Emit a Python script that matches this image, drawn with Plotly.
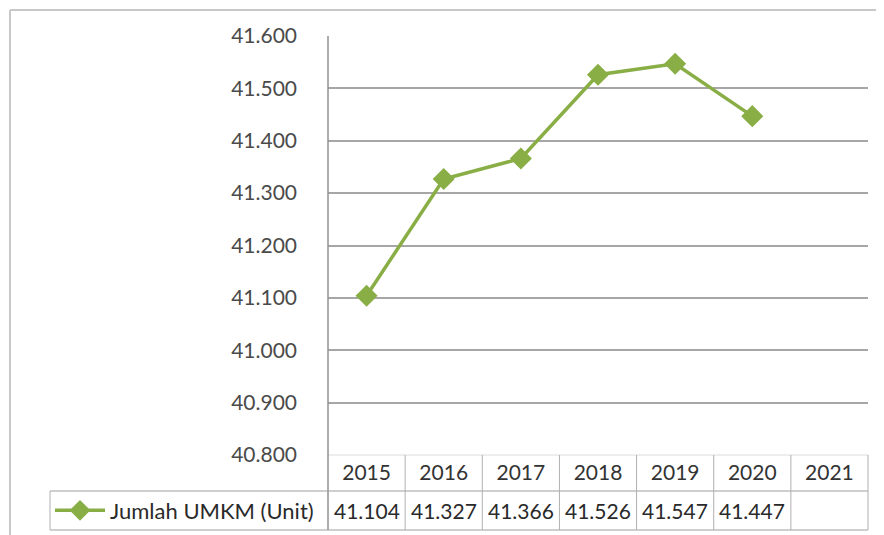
import plotly.graph_objects as go

W, H = 884, 535

years = ["2015", "2016", "2017", "2018", "2019", "2020", "2021"]
umkm = [41.104, 41.327, 41.366, 41.526, 41.547, 41.447, None]
series_name = "Jumlah UMKM (Unit)"
y_ticks = [40.8, 40.9, 41.0, 41.1, 41.2, 41.3, 41.4, 41.5, 41.6]

GREEN = "#8aae46"
GRID = "#a6a6a6"
FONT = "Lato"
OFF = 8  # the page body adds an 8px margin around the figure


def px_x(v):
    return (v - OFF) / W


def px_y(v):
    return 1 - (v - OFF) / H


# plot area in pixels
left, right, top, bottom = 328, 868, 36, 455
row_mid, table_bottom = 491, 530

fig = go.Figure()
fig.add_trace(go.Scatter(
    x=years, y=umkm,
    mode="lines+markers",
    name=series_name,
    line=dict(color=GREEN, width=3.5),
    marker=dict(symbol="diamond", size=17, color=GREEN),
))

shapes = []
# outer chart frame (right / bottom sides fall outside the picture)
shapes.append(dict(type="line", xref="paper", yref="paper", x0=px_x(10), x1=1.02,
                   y0=px_y(10), y1=px_y(10), line=dict(color="#c8c8c8", width=2)))
shapes.append(dict(type="line", xref="paper", yref="paper", x0=px_x(10), x1=px_x(10),
                   y0=px_y(10), y1=-0.02, line=dict(color="#c8c8c8", width=2)))
# faint rule on top of the year row
shapes.append(dict(type="line", xref="paper", yref="paper", x0=px_x(left), x1=px_x(right),
                   y0=px_y(bottom), y1=px_y(bottom), line=dict(color="#dcdcdc", width=1)))
# left edge of plot running down through the data table
shapes.append(dict(type="line", xref="paper", yref="paper", x0=px_x(left), x1=px_x(left),
                   y0=px_y(top), y1=px_y(table_bottom), line=dict(color="#909090", width=1.5)))
# table horizontal rules
for yy in [row_mid, table_bottom]:
    shapes.append(dict(type="line", xref="paper", yref="paper", x0=px_x(50), x1=px_x(right),
                       y0=px_y(yy), y1=px_y(yy), line=dict(color="#a0a0a0", width=1.2)))
# legend cell left edge and table right edge
shapes.append(dict(type="line", xref="paper", yref="paper", x0=px_x(50), x1=px_x(50),
                   y0=px_y(row_mid), y1=px_y(table_bottom), line=dict(color="#b0b0b0", width=1)))
shapes.append(dict(type="line", xref="paper", yref="paper", x0=px_x(right), x1=px_x(right),
                   y0=px_y(bottom), y1=px_y(table_bottom), line=dict(color="#b0b0b0", width=1)))
# column separators between years
for i in range(len(years) - 1):
    shapes.append(dict(type="line", xref="x", yref="paper", x0=i + 0.5, x1=i + 0.5,
                       y0=px_y(bottom), y1=px_y(table_bottom), line=dict(color="#b0b0b0", width=1)))

annotations = []
for i, v in enumerate(umkm):
    if v is None:
        continue
    annotations.append(dict(
        x=i, xref="x", y=px_y((row_mid + table_bottom) / 2), yref="paper",
        text=f"{v:.3f}", showarrow=False, font=dict(family=FONT, size=21, color="#2a2a2a"),
        xanchor="center", yanchor="middle",
    ))

fig.update_layout(
    width=W, height=H,
    margin=dict(l=0, r=0, t=0, b=0, autoexpand=False),
    paper_bgcolor="white",
    plot_bgcolor="white",
    font=dict(family=FONT, size=20, color="#333333"),
    showlegend=True,
    legend=dict(
        x=px_x(50), y=px_y((row_mid + table_bottom) / 2),
        xanchor="left", yanchor="middle",
        bgcolor="rgba(0,0,0,0)",
        font=dict(family=FONT, size=22, color="#2a2a2a"),
        itemwidth=50,
    ),
    xaxis=dict(
        domain=[px_x(left), px_x(right)],
        type="category",
        range=[-0.5, len(years) - 0.5],
        showgrid=False, zeroline=False,
        showline=False,
        ticks="",
        tickfont=dict(family=FONT, size=21, color="#333333"),
        ticklabelstandoff=3,
        automargin=False,
        fixedrange=True,
    ),
    yaxis=dict(
        domain=[px_y(bottom), px_y(top)],
        range=[y_ticks[0], y_ticks[-1]],
        tickvals=y_ticks,
        ticktext=[f"{t:.3f}" for t in y_ticks],
        showgrid=True, gridcolor=GRID, gridwidth=1.5,
        zeroline=False, showline=False, ticks="",
        tickfont=dict(family=FONT, size=21, color="#4a4a4a"),
        ticklabelstandoff=30,
        automargin=False,
        fixedrange=True,
    ),
    shapes=shapes,
    annotations=annotations,
)

fig.write_html("out.html")
